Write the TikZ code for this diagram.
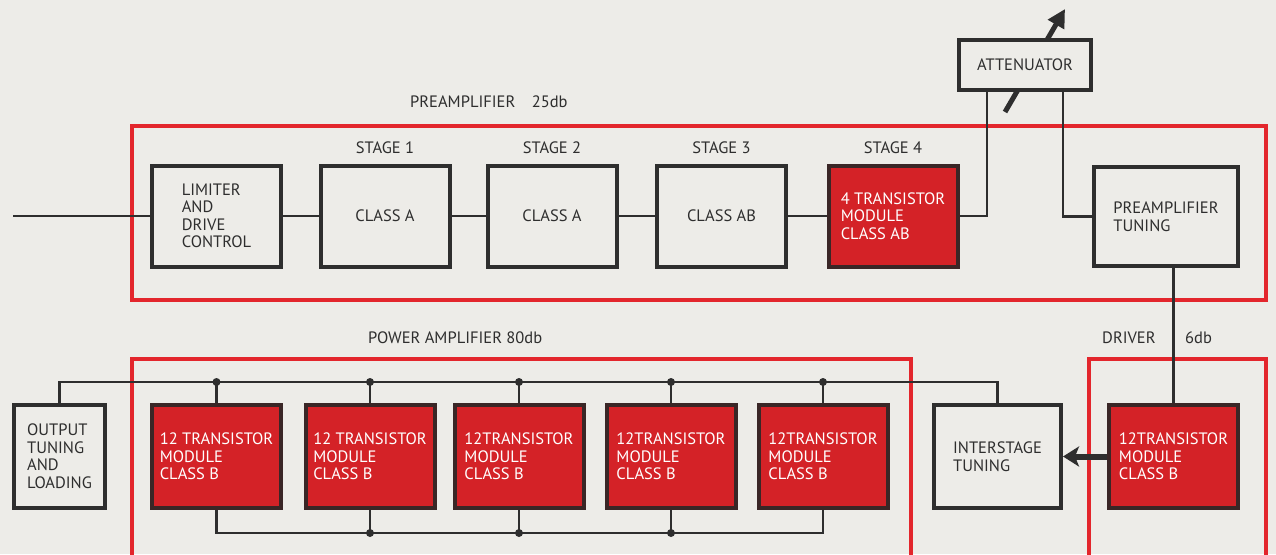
\documentclass[tikz,border=0pt]{standalone}
\usepackage{fontspec}
\setmainfont{PT Sans}
\usetikzlibrary{arrows.meta}
\definecolor{paper}{HTML}{EDECE8}
\definecolor{ink}{HTML}{2E2E2E}
\definecolor{framered}{HTML}{E3262C}
\definecolor{modred}{HTML}{D42227}
\definecolor{modedge}{HTML}{3A2626}
\tikzset{
  blk/.style={draw=ink, line width=4pt, fill=paper, text=ink, align=left, inner sep=0pt,
    minimum width=129pt, minimum height=101pt, font=\fontsize{16.5}{17.5}\selectfont},
  redblk/.style={blk, draw=modedge, fill=modred, text=white},
  lbl/.style={text=ink, inner sep=0pt, anchor=base, font=\fontsize{16.5}{17.5}\selectfont},
  redframe/.style={draw=framered, line width=4pt},
  wire/.style={draw=ink, line width=2.2pt},
  dot/.style={fill=ink}
}
\begin{document}
\begin{tikzpicture}[x=1pt,y=-1pt]
\clip (0,0) rectangle (1276,554);
\fill[paper] (0,0) rectangle (1276,554);
% the three red frames
\draw[redframe] (132,126) rectangle (1266,300);
\draw[redframe] (132,359) rectangle (911,580);
\draw[redframe] (1089,359) rectangle (1266,580);
\node[lbl, anchor=base west] at (410,107) {PREAMPLIFIER\quad 25db};
\node[lbl, anchor=base west] at (368,343) {POWER AMPLIFIER 80db};
\node[lbl, anchor=base west] at (1102,343) {DRIVER};
\node[lbl, anchor=base west] at (1185,343) {6db};

% preamplifier
\node[blk] (lim) at (216.5,216) {LIMITER\\AND\\DRIVE\\CONTROL};
\node[blk] (s1) at (385,216) {CLASS A};
\node[blk] (s2) at (552,216) {CLASS A};
\node[blk] (s3) at (721.5,216) {CLASS AB};
\node[redblk] (s4) at (893,216) {4 TRANSISTOR\\MODULE\\CLASS AB};
\node[blk, minimum width=144pt, minimum height=99pt] (ptun) at (1166,216.5) {PREAMPLIFIER\\TUNING};
\foreach \s/\n in {s1/1,s2/2,s3/3,s4/4}
  \node[lbl] at ([yshift=10.5pt]\s.north) {STAGE \n};

\draw[ink, line width=5pt, -{Triangle[length=18pt,width=18pt]}] (1005,112) -- (1065,9);
\node[blk, minimum width=132pt, minimum height=50pt] (att) at (1025,65) {ATTENUATOR};

\coordinate (in) at (13,216);
\draw[wire] (in) -- (lim) -- (s1) -- (s2) -- (s3) -- (s4);
\draw[wire] (s4) -| ([xshift=-38pt]att.south);
\draw[wire] ([xshift=38pt]att.south) |- (ptun);

% power amplifier and driver
\node[blk, minimum width=91pt, minimum height=103pt] (out) at (59.5,456) {OUTPUT\\TUNING\\AND\\LOADING};
\foreach \i/\x/\t in {1/216.5/12 TRANSISTOR,2/370/12 TRANSISTOR,3/519/12TRANSISTOR,4/671/12TRANSISTOR,5/823/12TRANSISTOR}
  \node[redblk, minimum height=103pt] (pm\i) at (\x,456.5) {\t\\MODULE\\CLASS B};
\node[blk, minimum width=127pt, minimum height=103pt] (ist) at (997.5,456.5) {INTERSTAGE\\TUNING};
\node[redblk, minimum height=103pt] (drv) at (1173.5,456.5) {12TRANSISTOR\\MODULE\\CLASS B};

\draw[wire] (drv |- ptun.south) -- (drv);
\draw[ink, line width=6pt, -{Stealth[length=16pt,width=20pt,inset=4pt]}] (drv) -- (ist);

\coordinate (tbus) at (0,382);
\coordinate (bbus) at (0,533);
\draw[wire] (out.north) |- (tbus -| ist) -- (ist.north);
\draw[wire] (pm1.south) |- (pm5 |- bbus) -- (pm5.south);
\foreach \i in {1,...,5} {
  \draw[wire] (pm\i.north) -- (pm\i |- tbus);
  \fill[dot] (pm\i |- tbus) circle (4pt);
}
\foreach \i in {2,3,4} {
  \draw[wire] (pm\i.south) -- (pm\i |- bbus);
  \fill[dot] (pm\i |- bbus) circle (4pt);
}
\end{tikzpicture}
\end{document}
